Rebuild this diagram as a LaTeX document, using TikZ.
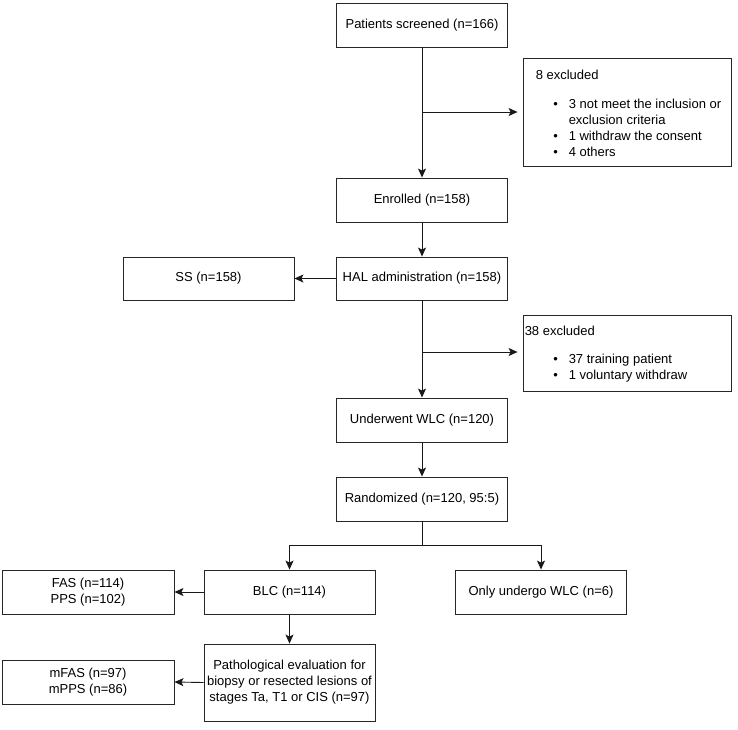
\documentclass[tikz,border=0pt]{standalone}
\usepackage{fontspec}
\setmainfont{Liberation Sans}
\usetikzlibrary{arrows.meta}
\newcommand\myitem[1]{\hspace*{#1}\makebox[15.5pt][l]{\textbullet}}
\begin{document}
\begin{tikzpicture}[x=1pt,y=1pt,
  box/.style={draw=black!85, line width=0.9pt, rectangle, minimum width=171pt,
    minimum height=44pt, inner sep=1pt, align=center,
    font=\fontsize{13}{16}\selectfont},
  exbox/.style={draw=black!85, line width=0.9pt, rectangle, minimum width=208pt, inner sep=0pt},
  extext/.style={inner sep=0pt, align=left, anchor=west, font=\fontsize{13}{16}\selectfont},
  arr/.style={-{Stealth[length=9pt,width=8pt,inset=2pt]}, line width=0.9pt, draw=black!90},
  conn/.style={line width=0.9pt, draw=black!90}]
\useasboundingbox (0,0) rectangle (738,-729);

% main column
\node[box] (pat) at (422,-25) {Patients screened (n=166)};
\node[box] (enr) at (422,-200) {Enrolled (n=158)};
\node[box, minimum height=43pt] (hal) at (422,-278.5) {HAL administration (n=158)};
\node[box] (und) at (422,-420) {Underwent WLC (n=120)};
\node[box] (ran) at (422,-499) {Randomized (n=120, 95:5)};

% side boxes
\node[box, minimum height=43pt] (ss) at (208.5,-278.5) {SS (n=158)};
\node[exbox, minimum height=108pt] (ex8) at (627,-112) {};
\node[extext] (ex8t) at ([xshift=13pt,yshift=-1.5pt]ex8.west) {8 excluded\\[12.5pt]
\myitem{17.5pt}3 not meet the inclusion or\\
\hspace*{33pt}exclusion criteria\\
\myitem{17.5pt}1 withdraw the consent\\
\myitem{17.5pt}4 others};
\node[exbox, minimum height=76pt] (ex38) at (627,-353) {};
\node[extext] (ex38t) at ([xshift=2pt,yshift=-1pt]ex38.west) {38 excluded\\[12.5pt]
\myitem{28.5pt}37 training patient\\
\myitem{28.5pt}1 voluntary withdraw};

% lower part
\node[box] (blc) at (289.5,-592) {BLC (n=114)};
\node[box] (only) at (541,-592) {Only undergo WLC (n=6)};
\node[box, minimum width=172pt] (fas) at (88,-592) {FAS (n=114)\\PPS (n=102)};
\node[box, minimum height=77pt] (path) at (289.5,-682.5) {Pathological evaluation for\\biopsy or resected lesions of\\stages Ta, T1 or CIS (n=97)};
\node[box, minimum width=172pt] (mfas) at (88,-682) {mFAS (n=97)\\mPPS (n=86)};

% connectors
\coordinate (b1) at (422,-112);
\coordinate (b2) at (422,-352);
\coordinate (split) at (422,-545);
\draw[arr] (pat.south) -- (enr.north);
\draw[arr, shorten >=5pt] (b1) -- (b1 -| ex8.west);
\draw[arr] (enr.south) -- (hal.north);
\draw[arr] (hal.west) -- (ss.east);
\draw[arr] (hal.south) -- (und.north);
\draw[arr, shorten >=5pt] (b2) -- (b2 -| ex38.west);
\draw[arr] (und.south) -- (ran.north);
\draw[conn] (ran.south) -- (split);
\draw[arr] (split) -| (blc.north);
\draw[arr] (split) -| (only.north);
\draw[arr] (blc.west) -- (fas.east);
\draw[arr] (blc.south) -- (path.north);
\draw[arr] (path.west) -- (mfas.east);
\end{tikzpicture}
\end{document}
